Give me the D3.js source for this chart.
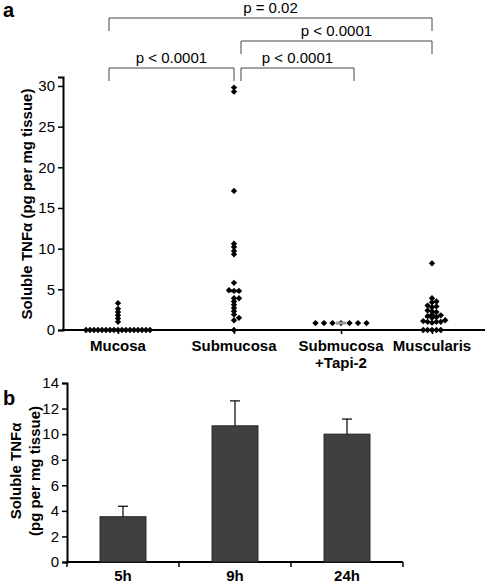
<!DOCTYPE html>
<html>
<head>
<meta charset="utf-8">
<script src="https://cdn.jsdelivr.net/npm/d3@7"></script>
<style>
  body { margin: 0; background: #fff; }
  svg { display: block; font-family: Arial, "Liberation Sans", sans-serif; }
</style>
</head>
<body>
<svg id="chart" width="488" height="583"></svg>
<script>
// ---------- Data (panel a) ----------
const categories = ["Mucosa", "Submucosa", "Submucosa\n+Tapi-2", "Muscularis"];
const mucosaValues = [0,0,0,0,0,0,0,0,0,0,0,0,0,0,0,0,0, 1.0, 1.4, 1.8, 2.2, 2.6, 3.3];
const submucosaValues = [29.8, 29.3, 17.1, 10.6, 10.2, 9.7, 9.3, 5.8, 4.9, 4.8, 4.8, 3.9, 3.9, 3.5, 3.1, 2.7, 2.3, 1.9, 1.5, 1.2, 0];
const tapiValues = [0.85, 0.85, 0.85, 0.85, 0.85, 0.85, 0.85];
const muscularisValues = [8.2, 3.9, 3.5, 3.4, 3.0, 2.9, 2.8, 2.4, 2.3, 2.2, 1.9, 1.8, 1.7, 1.6, 1.5, 1.2, 1.1, 1.0, 1.0, 1.0, 0.9, 0, 0, 0, 0, 0];
const groupValues = [mucosaValues, submucosaValues, tapiValues, muscularisValues];
const yTicksA = [0, 5, 10, 15, 20, 25, 30];
const comparisons = [
  { a: "Mucosa", b: "Muscularis", label: "p = 0.02" },
  { a: "Submucosa", b: "Muscularis", label: "p < 0.0001" },
  { a: "Mucosa", b: "Submucosa", label: "p < 0.0001" },
  { a: "Submucosa", b: "Submucosa\n+Tapi-2", label: "p < 0.0001" }
];

// ---------- Data (panel b) ----------
const timeLabels = ["5h", "9h", "24h"];
const meanValues = [3.54, 10.65, 10.0];
const errValues = [0.82, 1.95, 1.18];
const yTicksB = [0, 2, 4, 6, 8, 10, 12, 14];

const svg = d3.select("#chart");
const FONT = 'Arial, "Liberation Sans", sans-serif';

// ======== Panel a ========
const yA = d3.scaleLinear().domain([0, 31.1]).range([330, 77]);
const xA = d3.scaleOrdinal().domain(categories).range([118, 234, 341, 432]);
const axisLeftX = 63, axisRightX = 485;

svg.append("text").attr("x", 3).attr("y", 17).attr("font-size", 20).attr("font-weight", "bold").text("a");

// y axis
const gYA = svg.append("g").attr("transform", `translate(${axisLeftX},0)`)
  .call(d3.axisLeft(yA).tickValues(yTicksA).tickSizeOuter(0).tickSize(5).tickPadding(3));
gYA.select(".domain").attr("stroke-width", 2);
gYA.selectAll(".tick line").attr("stroke-width", 1.5);
gYA.selectAll(".tick text").attr("font-size", 15).attr("font-family", FONT).attr("fill", "#000");

// x axis
svg.append("line").attr("x1", axisLeftX - 1).attr("x2", axisRightX).attr("y1", yA(0)).attr("y2", yA(0))
  .attr("stroke", "#000").attr("stroke-width", 2);
const gXA = svg.append("g").attr("transform", `translate(0,${yA(0)})`)
  .call(d3.axisBottom(xA).tickSize(4).tickFormat(""));
gXA.select(".domain").remove();
gXA.selectAll(".tick line").attr("stroke-width", 1.5);

// category labels
categories.forEach(c => {
  const lines = c.split("\n");
  const t = svg.append("text").attr("x", xA(c)).attr("y", 351).attr("text-anchor", "middle")
    .attr("font-size", 15).attr("font-weight", "bold");
  lines.forEach((ln, i) => t.append("tspan").attr("x", xA(c)).attr("dy", i === 0 ? 0 : 17).text(ln));
});

// y title
svg.append("text").attr("transform", `translate(32,${204}) rotate(-90)`).attr("text-anchor", "middle")
  .attr("font-size", 15).attr("font-weight", "bold").text("Soluble TNFα (pg per mg tissue)");

// beeswarm dodge
function dodge(values, spacing, thresh) {
  const pts = values.map(v => ({ v, py: yA(v) })).sort((a, b) => a.v - b.v);
  const placed = [];
  for (const p of pts) {
    for (let k = 0; k < 200; k++) {
      const off = k === 0 ? 0 : (k % 2 ? 1 : -1) * Math.ceil(k / 2) * spacing;
      if (!placed.some(q => Math.abs(q.py - p.py) < thresh && Math.abs(q.dx - off) < spacing * 0.9)) {
        p.dx = off; placed.push(p); break;
      }
    }
  }
  return placed;
}
const groupSpacing = [4, 5, 8.5, 4.4];
const diamond = d3.symbol(d3.symbolSquare, 20)();

categories.forEach((c, gi) => {
  const pts = dodge(groupValues[gi], groupSpacing[gi], 3);
  svg.append("g").selectAll("path").data(pts).join("path")
    .attr("d", diamond)
    .attr("transform", d => `translate(${xA(c) + d.dx},${d.py}) rotate(45)`)
    .attr("fill", "#000");
  const med = d3.median(groupValues[gi]);
  const isTapi = gi === 2;
  const hw = isTapi ? 5 : 7;
  svg.append("line").attr("x1", xA(c) - hw).attr("x2", xA(c) + hw)
    .attr("y1", yA(med)).attr("y2", yA(med))
    .attr("stroke", isTapi ? "#9a9a9a" : "#000").attr("stroke-width", isTapi ? 3 : 2.5);
});

// significance brackets
const bracketLevels = [18, 41, 68, 68];
const bracketLeg = 13;
comparisons.forEach((cmp, i) => {
  const yTop = bracketLevels[i];
  let x1 = xA(cmp.a), x2 = xA(cmp.b);
  if (cmp.a === "Submucosa") x1 += 7;
  if (cmp.a === "Mucosa") x1 -= 9;
  if (cmp.b === "Submucosa\n+Tapi-2") x2 += 13;
  svg.append("path")
    .attr("d", `M${x1},${yTop + bracketLeg}V${yTop}H${x2}V${yTop + bracketLeg}`)
    .attr("fill", "none").attr("stroke", "#444").attr("stroke-width", 1);
  svg.append("text").attr("x", (x1 + x2) / 2).attr("y", yTop - 5).attr("text-anchor", "middle")
    .attr("font-size", 15).text(cmp.label);
});

// ======== Panel b ========
const yB = d3.scaleLinear().domain([0, 14]).range([562, 383]);
const xB = d3.scaleBand().domain(timeLabels).range([67, 403]).paddingInner(0.59).paddingOuter(0.295);

svg.append("text").attr("x", 3).attr("y", 405).attr("font-size", 20).attr("font-weight", "bold").text("b");

const gYB = svg.append("g").attr("transform", "translate(67,0)")
  .call(d3.axisLeft(yB).tickValues(yTicksB).tickSizeOuter(0).tickSize(5).tickPadding(3));
gYB.select(".domain").attr("stroke-width", 2);
gYB.selectAll(".tick line").attr("stroke-width", 1.5);
gYB.selectAll(".tick text").attr("font-size", 15).attr("font-family", FONT).attr("fill", "#000");

svg.append("line").attr("x1", 66).attr("x2", 403).attr("y1", yB(0)).attr("y2", yB(0))
  .attr("stroke", "#000").attr("stroke-width", 2);
const step = xB.step();
d3.range(timeLabels.length + 1).forEach(i => {
  const x = 67 + i * step;
  svg.append("line").attr("x1", x).attr("x2", x).attr("y1", yB(0)).attr("y2", yB(0) + 5)
    .attr("stroke", "#000").attr("stroke-width", 1.5);
});

// bars
svg.append("g").selectAll("rect").data(timeLabels).join("rect")
  .attr("x", d => xB(d)).attr("width", xB.bandwidth())
  .attr("y", (d, i) => yB(meanValues[i])).attr("height", (d, i) => yB(0) - yB(meanValues[i]))
  .attr("fill", "#404040").attr("stroke", "#222").attr("stroke-width", 1);

// error bars
timeLabels.forEach((d, i) => {
  const cx = xB(d) + xB.bandwidth() / 2;
  const top = yB(meanValues[i] + errValues[i]);
  svg.append("line").attr("x1", cx).attr("x2", cx).attr("y1", yB(meanValues[i])).attr("y2", top)
    .attr("stroke", "#000").attr("stroke-width", 1.2);
  svg.append("line").attr("x1", cx - 5).attr("x2", cx + 5).attr("y1", top).attr("y2", top)
    .attr("stroke", "#000").attr("stroke-width", 1.2);
  svg.append("text").attr("x", cx).attr("y", 581).attr("text-anchor", "middle")
    .attr("font-size", 15).attr("font-weight", "bold").text(d);
});

// y title (two lines)
const tB = svg.append("text").attr("transform", "translate(0,471) rotate(-90)")
  .attr("text-anchor", "middle").attr("font-size", 15).attr("font-weight", "bold");
tB.append("tspan").attr("x", 0).attr("y", 21).text("Soluble TNFα");
tB.append("tspan").attr("x", 0).attr("y", 40).text("(pg per mg tissue)");
</script>
</body>
</html>
